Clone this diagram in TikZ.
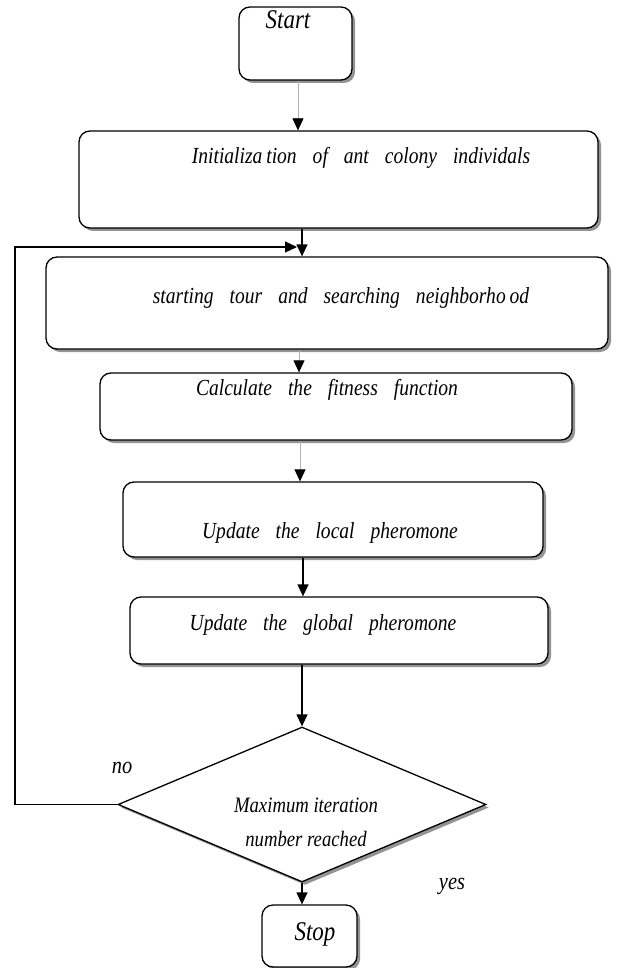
\documentclass[tikz,border=0pt]{standalone}
\usepackage{fontspec}
\setmainfont{Liberation Serif}
\newfontfamily\tallserif[FakeStretch=0.85]{Liberation Serif}
\usetikzlibrary{shapes.geometric,arrows.meta,shadows}
\newcommand\widesp{\spaceskip=16pt\relax}
\begin{document}
\begin{tikzpicture}[x=1pt,y=-1pt,
  box/.style={draw=black, line width=1.3pt, rounded corners=11pt, fill=white, inner sep=0pt,
    drop shadow={shadow xshift=3pt, shadow yshift=-3pt, fill=gray!85, opacity=1}},
  decbox/.style={shape=diamond, draw=black, line width=1.3pt, fill=white, inner sep=0pt, aspect=2.374,
    minimum width=368pt, minimum height=155pt,
    drop shadow={shadow xshift=3pt, shadow yshift=-3pt, fill=gray!85, opacity=1}},
  lbl/.style={inner sep=0pt, font=\tallserif\fontsize{23}{27}\selectfont\itshape},
  big/.style={inner sep=0pt, font=\tallserif\fontsize{27}{31}\selectfont\itshape},
  side/.style={inner sep=0pt, font=\tallserif\fontsize{24}{28}\selectfont\itshape},
  garr/.style={draw=gray!60, line width=0.8pt, -{Triangle[length=12pt,width=11pt,color=black]}},
  barr/.style={draw=black, line width=1.3pt, -{Triangle[length=12pt,width=11pt]}}
]
\useasboundingbox (0,0) rectangle (628,968);
\fill[white] (0,0) rectangle (628,968);

% boxes
\node[box, minimum width=113pt, minimum height=73pt] (start) at (295.5,43.5) {};
\node[box, minimum width=519pt, minimum height=97pt] (init) at (338.5,179.5) {};
\node[box, minimum width=562pt, minimum height=92pt] (tour) at (327,303) {};
\node[box, minimum width=472pt, minimum height=67pt] (calc) at (336,406.5) {};
\node[box, minimum width=420pt, minimum height=75pt] (local) at (333,519.5) {};
\node[box, minimum width=418pt, minimum height=67pt] (global) at (339,630.5) {};
\node[decbox] (dec) at (302,804.5) {};
\node[box, minimum width=95pt, minimum height=62pt] (stop) at (309.5,936) {};

% texts
\node[big] (tstart) at (288,20) {Start};
\node[lbl] (tinit) at (361,158) {\widesp Initializa\,tion of ant colony individals};
\node[lbl] (ttour) at (341,298) {\widesp starting tour and searching neighborho\,od};
\node[lbl] (tcalc) at (327,390) {\widesp Calculate the fitness function};
\node[lbl] (tlocal) at (330,533) {\widesp Update the local pheromone};
\node[lbl] (tglobal) at (323,625) {\widesp Update the global pheromone};
\node[inner sep=0pt, align=center, font=\tallserif\fontsize{22}{34}\selectfont\itshape] (tdec) at (306,822) {Maximum iteration\\number reached};
\node[big] (tstop) at (315,934) {Stop};
\node[side] (tno) at (122,768) {no};
\node[side] (tyes) at (452,886) {yes};

% connector x positions
\coordinate (x1) at (298,0);
\coordinate (x2) at (302,0);
\coordinate (x3) at (299,0);
\coordinate (x4) at (300,0);
\coordinate (x5) at (303,0);
\coordinate (x6) at (302,0);
\coordinate (lc) at (15,0);
\coordinate (le) at (297,247);

\draw[garr] (start.south -| x1) -- (init.north -| x1);
\draw[barr] (init.south -| x2) -- (tour.north -| x2);
\draw[garr] (tour.south -| x3) -- (calc.north -| x3);
\draw[garr] (calc.south -| x4) -- (local.north -| x4);
\draw[barr] (local.south -| x5) -- (global.north -| x5);
\draw[barr] (global.south -| x6) -- (dec.north);
\draw[barr] (dec.south) -- (stop.north -| dec.south);
\draw[barr] (dec.west) -| (lc |- le) -- (le);
\end{tikzpicture}
\end{document}
